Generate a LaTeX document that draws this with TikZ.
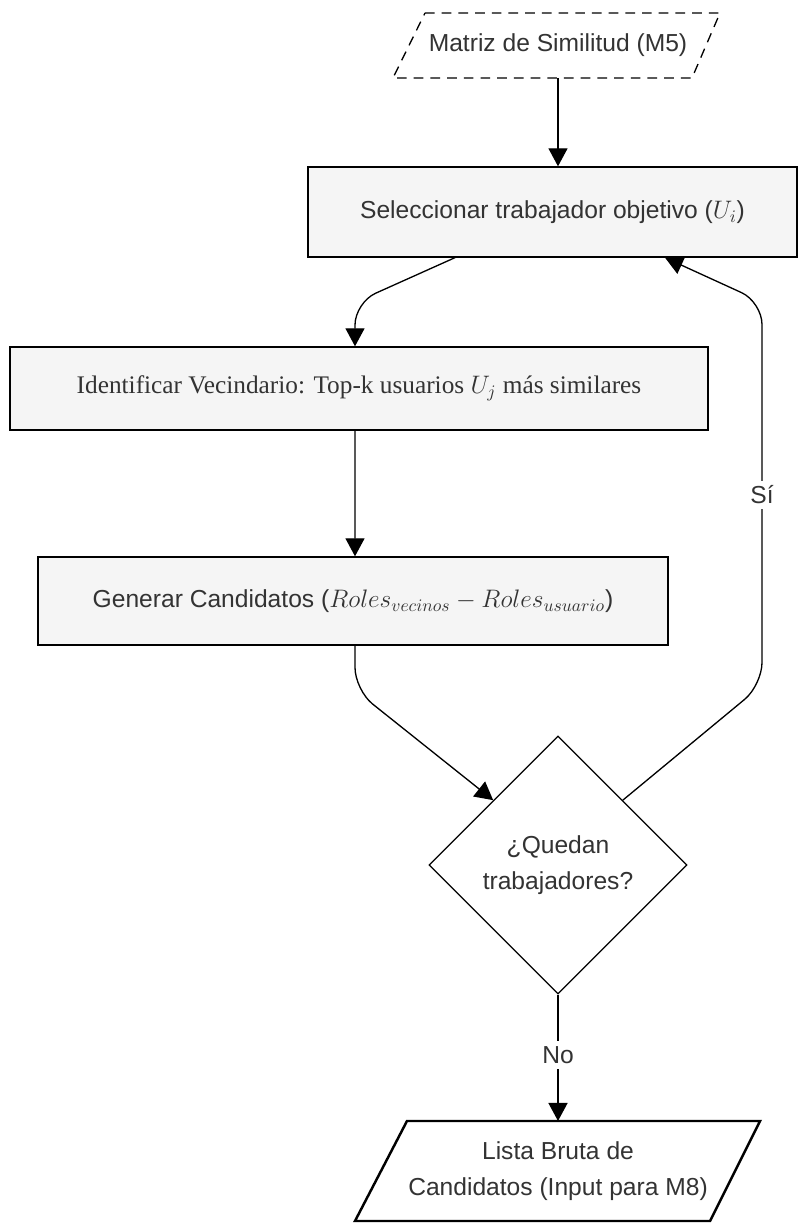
\documentclass[tikz,border=0pt]{standalone}
\usepackage{amsmath,amssymb}
\usepackage{fontspec}
\setmainfont{Liberation Sans}
\newfontfamily\serifbox{Liberation Serif}
\usepackage{tikz}
\usetikzlibrary{arrows.meta,shapes.geometric}
\usepackage{xcolor}
\definecolor{boxfill}{HTML}{F5F5F5}
\definecolor{txt}{HTML}{333333}

\begin{document}
\begin{tikzpicture}[>={Triangle[length=3.6mm,width=3.8mm]},line width=0.75pt,
  font=\fontsize{14}{20.5}\selectfont,
  proc/.style={draw,fill=boxfill,rectangle,inner sep=0pt,align=center,text=txt},
  flow/.style={->,rounded corners=0.45cm},
  lbl/.style={fill=white,inner sep=3pt,text=txt}]
\useasboundingbox (0,0) rectangle (15.98,24.48);
\draw[dash pattern=on 5.5pt off 4pt] (8.50,24.22) -- (14.40,24.22) -- (13.84,22.92) -- (7.86,22.92) -- cycle;
\node[text=txt] (mat) at (11.16,23.58) {Matriz de Similitud (M5)};
\coordinate (matb) at (11.16,22.92);
\node[proc,minimum width=9.78cm,minimum height=1.8cm] (sel) at (11.05,20.24) {Seleccionar trabajador objetivo ($U_i$)};
\node[proc,minimum width=13.96cm,minimum height=1.66cm,font=\serifbox\fontsize{14.4}{17}\selectfont] (ide) at (7.18,16.71) {Identificar Vecindario: Top-k usuarios $U_j$ más similares};
\node[proc,minimum width=12.6cm,minimum height=1.76cm] (gen) at (7.06,12.46) {Generar Candidatos ($Roles_{vecinos}-Roles_{usuario}$)};
\node[diamond,draw,fill=white,minimum width=5.16cm,minimum height=5.16cm,inner sep=0pt,align=center,text=txt] (qda) at (11.16,7.18) {¿Quedan\\trabajadores?};
\draw[line width=1.4pt] (8.14,2.06) -- (15.20,2.06) -- (14.20,0.06) -- (7.10,0.06) -- cycle;
\node[align=center,text=txt] (lst) at (11.16,1.06) {Lista Bruta de\\Candidatos (Input para M8)};
\coordinate (lstt) at (11.16,2.06);
\draw[->] (matb) -- (matb |- sel.north);
\draw[flow] ([xshift=-1.95cm]sel.south) -- (7.10,18.43) -- ([xshift=-0.08cm]ide.north);
\draw[->] ([xshift=-0.08cm]ide.south) -- ([xshift=0.04cm]gen.north);
\draw[flow] ([xshift=0.04cm]gen.south) -- (7.10,10.68) -- (qda.north west);
\draw[flow] (qda.north east) -- (15.24,10.78) -- (15.24,18.44) -- ([xshift=2.25cm]sel.south);
\node[lbl] (si) at (15.24,14.58) {Sí};
\draw[->] (qda.south) -- (lstt);
\node[lbl] (no) at (11.16,3.38) {No};
\end{tikzpicture}
\end{document}
